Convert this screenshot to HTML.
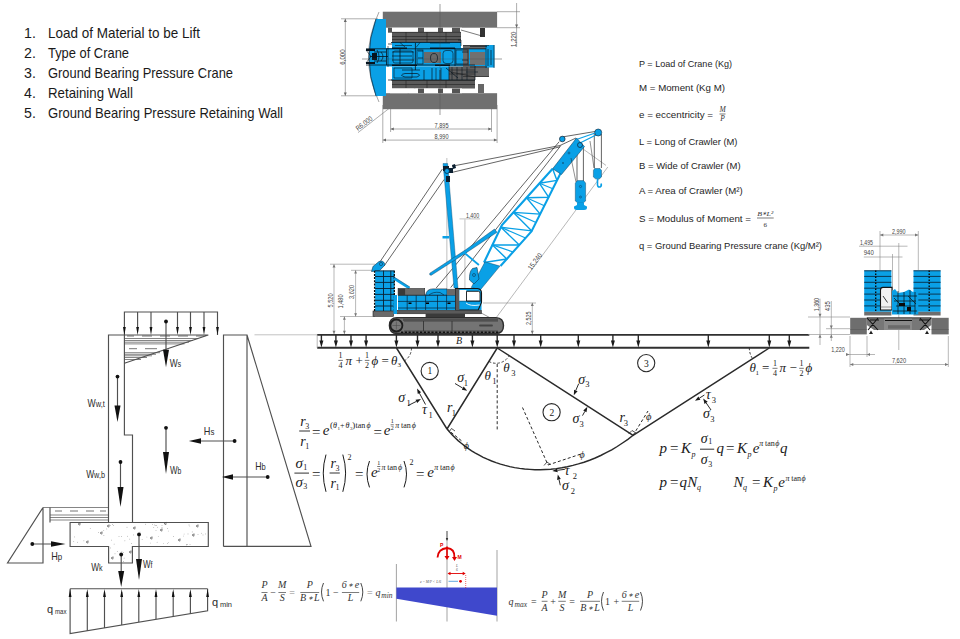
<!DOCTYPE html>
<html><head><meta charset="utf-8">
<style>
html,body{margin:0;padding:0;background:#fff;width:960px;height:639px;overflow:hidden}
svg{position:absolute;left:0;top:0}
.sans{font-family:"Liberation Sans",sans-serif}
.serif{font-family:"Liberation Serif",serif}
</style></head>
<body>
<svg width="960" height="639" viewBox="0 0 960 639">
<!-- ===== LIST ===== -->
<g id="list" class="sans" font-size="14.2" fill="#1a1a1a">
<text x="24" y="37.5">1.</text><text x="48" y="37.5" textLength="152" lengthAdjust="spacingAndGlyphs">Load of Material to be Lift</text>
<text x="24" y="57.7">2.</text><text x="48" y="57.7" textLength="81" lengthAdjust="spacingAndGlyphs">Type of Crane</text>
<text x="24" y="77.9">3.</text><text x="48" y="77.9" textLength="185" lengthAdjust="spacingAndGlyphs">Ground Bearing Pressure Crane</text>
<text x="24" y="98.1">4.</text><text x="48" y="98.1" textLength="85" lengthAdjust="spacingAndGlyphs">Retaining Wall</text>
<text x="24" y="118.3">5.</text><text x="48" y="118.3" textLength="235" lengthAdjust="spacingAndGlyphs">Ground Bearing Pressure Retaining Wall</text>
</g>

<!-- ===== LEGEND ===== -->
<g id="legend" class="sans" font-size="9.8" fill="#1e1e1e">
<text x="639" y="66.7" textLength="93" lengthAdjust="spacingAndGlyphs">P = Load of Crane (Kg)</text>
<text x="639" y="90.8" textLength="86" lengthAdjust="spacingAndGlyphs">M = Moment (Kg M)</text>
<text x="639" y="117.5" textLength="74" lengthAdjust="spacingAndGlyphs">e = eccentricity =</text>
<text x="639" y="145" textLength="98.5" lengthAdjust="spacingAndGlyphs">L = Long of Crawler (M)</text>
<text x="639" y="169.2" textLength="101.6" lengthAdjust="spacingAndGlyphs">B = Wide of Crawler (M)</text>
<text x="639" y="193.5" textLength="103.7" lengthAdjust="spacingAndGlyphs">A = Area of Crawler (M²)</text>
<text x="639" y="221.7" textLength="112" lengthAdjust="spacingAndGlyphs">S = Modulus of Moment =</text>
<text x="639" y="248.8" textLength="183" lengthAdjust="spacingAndGlyphs">q = Ground Bearing Pressure crane (Kg/M²)</text>
</g>

<!-- ===== RETAINING WALL ===== -->
<g id="wall" fill="none" stroke="#505050" stroke-width="1.15">
<path d="M124.4 335V312H217.5V335"/>
<path d="M137.6 312V328M151 312V328M177.5 312V328M190.5 312V328M204 312V328"/>
<!-- wall stem -->
<path d="M108.5 522V335H124.4V435H132.5V522"/>
<path d="M124.4 335H208.3L124.4 363.2"/>
<!-- soil hatch -->
<path d="M124.4 338.5H198M124.4 340.5H193M124.4 342.2H189M124.4 343.9H184.5M124.4 352.7H160M124.4 354.3H156M124.4 355.8H152M124.4 357.5H147M124.4 359.5H141" stroke-width="0.7"/>
<path d="M127 336H134M142 336H152M160 336H170M178 336H188M196 336H204M129 348.7H137M145 348.7H157" stroke-width="0.8"/>
<!-- base slab -->
<path d="M70.1 522.5H208.3V546.5H132.4V563H108.6V546.5H70.1Z"/>
<!-- left soil -->
<path d="M43 507.5H108.6M50 515H108.6M50 517.5H108.6M50 520H108.6" stroke-width="0.7"/><path d="M55 511H62M70 511H78M86 511H94M100 511H106" stroke-width="0.8"/>
<path d="M43 507.5L7.5 563H43V507.5"/>
<path d="M50 507.5V522.5"/>
<!-- right panel -->
<path d="M223.5 546.4V335H247V546.4M223.5 546.4H311L247 335"/>
<!-- pressure diagram -->
<path d="M70.1 588.7H207.6M70.1 588.7V633.6L207.6 610.7V588.7"/>
<path d="M87.3 592V631M104.5 592V628M121.7 592V625M138.8 592V622M156 592V619M173.2 592V617M190.4 592V614"/>
<!-- force lines -->
<path d="M166 321.5V350M117.5 376.6V406M166 427.8V452M120.5 462V488M121.2 554.5V572M139 534.4V560"/>
<path d="M234.6 441H200M267.7 477H232M32.3 544H52"/>
</g>
<g fill="#555"><circle cx="103.9" cy="535.4" r="0.35"/><circle cx="121.6" cy="536.7" r="0.35"/><circle cx="155.8" cy="525.4" r="0.35"/><circle cx="73.8" cy="541.6" r="0.35"/><circle cx="106.8" cy="528.9" r="0.35"/><circle cx="205.4" cy="533.9" r="0.35"/><circle cx="184.1" cy="534.0" r="0.35"/><circle cx="157.6" cy="527.2" r="0.35"/><circle cx="157.1" cy="542.2" r="0.35"/><circle cx="142.1" cy="539.6" r="0.35"/><circle cx="162.0" cy="525.3" r="0.35"/><circle cx="173.6" cy="536.4" r="0.35"/><circle cx="112.4" cy="524.7" r="0.35"/><circle cx="188.0" cy="533.9" r="0.35"/><circle cx="168.3" cy="542.5" r="0.35"/><circle cx="167.7" cy="543.3" r="0.35"/><circle cx="124.9" cy="540.8" r="0.35"/><circle cx="131.6" cy="543.6" r="0.35"/><circle cx="189.8" cy="526.0" r="0.35"/><circle cx="90.2" cy="528.6" r="0.35"/><circle cx="201.4" cy="533.2" r="0.35"/><circle cx="156.0" cy="530.3" r="0.35"/><circle cx="140.0" cy="532.1" r="0.35"/><circle cx="119.0" cy="536.3" r="0.35"/><circle cx="150.3" cy="543.0" r="0.35"/><circle cx="163.4" cy="543.5" r="0.35"/><circle cx="186.8" cy="544.8" r="0.35"/><circle cx="162.0" cy="527.4" r="0.35"/><circle cx="187.3" cy="544.3" r="0.35"/><circle cx="193.2" cy="536.0" r="0.35"/><circle cx="167.7" cy="528.4" r="0.35"/><circle cx="183.4" cy="536.0" r="0.35"/><circle cx="110.2" cy="525.3" r="0.35"/><circle cx="186.4" cy="544.8" r="0.35"/><circle cx="83.9" cy="540.8" r="0.35"/><circle cx="127.0" cy="527.2" r="0.35"/><circle cx="111.4" cy="540.1" r="0.35"/><circle cx="189.0" cy="524.9" r="0.35"/><circle cx="154.3" cy="524.9" r="0.35"/><circle cx="168.3" cy="531.0" r="0.35"/><circle cx="190.0" cy="544.6" r="0.35"/><circle cx="139.7" cy="545.0" r="0.35"/><circle cx="113.5" cy="525.6" r="0.35"/><circle cx="152.4" cy="524.7" r="0.35"/><circle cx="98.4" cy="532.6" r="0.35"/><circle cx="153.8" cy="527.3" r="0.35"/><circle cx="77.7" cy="542.2" r="0.35"/><circle cx="114.1" cy="544.1" r="0.35"/><circle cx="192.2" cy="531.9" r="0.35"/><circle cx="133.7" cy="534.9" r="0.35"/><circle cx="158.3" cy="536.5" r="0.35"/><circle cx="146.9" cy="537.0" r="0.35"/><circle cx="198.0" cy="534.6" r="0.35"/><circle cx="129.8" cy="539.1" r="0.35"/><circle cx="103.8" cy="530.3" r="0.35"/><circle cx="203.0" cy="534.9" r="0.35"/><circle cx="145.5" cy="524.2" r="0.35"/><circle cx="127.6" cy="536.2" r="0.35"/><circle cx="74.7" cy="536.9" r="0.35"/><circle cx="156.7" cy="525.3" r="0.35"/><circle cx="122.5" cy="554.0" r="0.35"/><circle cx="123.6" cy="552.3" r="0.35"/><circle cx="124.1" cy="558.1" r="0.35"/><circle cx="110.4" cy="547.9" r="0.35"/><circle cx="123.5" cy="561.4" r="0.35"/><circle cx="115.0" cy="553.8" r="0.35"/><circle cx="121.9" cy="551.8" r="0.35"/><circle cx="117.3" cy="551.7" r="0.35"/><path d="M78 524l2.2 -1.2l-0.3 2.4zM107 526l2.2 -1.2l-0.3 2.4zM133 528l2.2 -1.2l-0.3 2.4zM100 533l2.2 -1.2l-0.3 2.4zM160 530l2.2 -1.2l-0.3 2.4zM196 526l2.2 -1.2l-0.3 2.4zM192 535l2.2 -1.2l-0.3 2.4zM129 552l2.2 -1.2l-0.3 2.4zM111 558l2.2 -1.2l-0.3 2.4zM86 542l2.2 -1.2l-0.3 2.4zM178 540l2.2 -1.2l-0.3 2.4zM150 538l2.2 -1.2l-0.3 2.4zM164 523.5l2.2 -1.2l-0.3 2.4z" fill="none" stroke="#444" stroke-width="0.6"/></g>
<g id="wallink" fill="#111" stroke="none">
<path d="M123 327H125.8L124.4 335ZM136.2 327H139L137.6 335ZM149.6 327H152.4L151 335ZM176.1 327H178.9L177.5 335ZM189.1 327H191.9L190.5 335ZM202.6 327H205.4L204 335ZM216.1 327H218.9L217.5 335Z"/>
<path d="M68.7 597H71.5L70.1 589ZM85.9 597H88.7L87.3 589ZM103.1 597H105.9L104.5 589ZM120.3 597H123.1L121.7 589ZM137.4 597H140.2L138.8 589ZM154.6 597H157.4L156 589ZM171.8 597H174.6L173.2 589ZM189 597H191.8L190.4 589ZM206.2 597H209L207.6 589Z"/>
<circle cx="166" cy="321.5" r="1.9"/><path d="M163 349.7H169L166 367.3Z"/>
<circle cx="117.5" cy="376.6" r="1.9"/><path d="M114.5 405.4H120.5L117.5 422Z"/>
<circle cx="166" cy="427.8" r="1.9"/><path d="M163 452H169L166 474Z"/>
<circle cx="120.5" cy="462" r="1.9"/><path d="M117.5 487H123.5L120.5 507Z"/>
<circle cx="121.2" cy="554.5" r="1.9"/><path d="M118.2 571H124.2L121.2 587Z"/>
<circle cx="139" cy="534.4" r="1.9"/><path d="M136 559H142L139 580Z"/>
<circle cx="234.6" cy="441" r="1.9"/><path d="M201 438.2V443.8L188.8 441Z"/>
<circle cx="267.7" cy="477" r="1.9"/><path d="M233 474.2V479.8L221.9 477Z"/>
<circle cx="32.3" cy="544" r="1.9"/><path d="M51 541.2V546.8L65.5 544Z"/>
</g>
<g class="sans" fill="#2a2a2a" font-size="11">
<text x="169.7" y="366.6" textLength="11.5" lengthAdjust="spacingAndGlyphs">W<tspan font-size="9.5">s</tspan></text>
<text x="87.5" y="407.2" textLength="17.3" lengthAdjust="spacingAndGlyphs">W<tspan font-size="9.5">w,t</tspan></text>
<text x="86.2" y="478" textLength="18.8" lengthAdjust="spacingAndGlyphs">W<tspan font-size="9.5">w,b</tspan></text>
<text x="170" y="474" textLength="11.3" lengthAdjust="spacingAndGlyphs">W<tspan font-size="9.5">b</tspan></text>
<text x="203.8" y="434.5" textLength="10.6" lengthAdjust="spacingAndGlyphs">H<tspan font-size="9.5">s</tspan></text>
<text x="255.3" y="469.5" textLength="10.5" lengthAdjust="spacingAndGlyphs">H<tspan font-size="9.5">b</tspan></text>
<text x="51.2" y="560" textLength="11" lengthAdjust="spacingAndGlyphs">H<tspan font-size="9.5">p</tspan></text>
<text x="91.2" y="571.3" textLength="11.3" lengthAdjust="spacingAndGlyphs">W<tspan font-size="9.5">k</tspan></text>
<text x="143" y="567.5" textLength="9.5" lengthAdjust="spacingAndGlyphs">W<tspan font-size="9.5">f</tspan></text>
<text x="47" y="613" font-size="11">q</text><text x="55" y="613.5" font-size="7.5" textLength="11.5" lengthAdjust="spacingAndGlyphs">max</text>
<text x="212" y="606" font-size="11">q</text><text x="220" y="606.5" font-size="7.5" textLength="12" lengthAdjust="spacingAndGlyphs">min</text>
</g>

<!-- ===== GROUND BEAM + SLIP LINES ===== -->
<path d="M254.5 334.8H317.2" stroke="#999" stroke-width="0.6" fill="none"/>
<g fill="none" stroke="#2a2a2a">
<path d="M317.2 334.85H809.3M317.2 347.75H809.3" stroke-width="1.9" stroke="#303030"/>
<path d="M317.2 334.8V348" stroke="#888" stroke-width="0.6"/>
<path d="M321.4 335V342M335.9 335V342M351 335V342M366.1 335V342M396.4 335V342M417.5 335V342M438 335V342M472.4 335V342M497.2 335V342M514 335V342M540.7 335V342M578.3 335V342M612.9 335V342M638.3 335V342M708.3 335V342M769.3 335V342M789.3 335V342" stroke-width="1.4"/>
<path d="M396.5 348L447 429M497.2 348L447 429M497.2 348L633.1 435.3L769.3 348" stroke-width="1.45"/>
<path d="M447.0 429.0 L449.6 432.0 L452.3 434.9 L455.1 437.8 L458.1 440.6 L461.3 443.3 L464.6 445.9 L468.0 448.4 L471.6 450.8 L475.4 453.1 L479.2 455.2 L483.2 457.3 L487.3 459.2 L491.6 461.0 L496.0 462.6 L500.5 464.1 L505.1 465.4 L509.8 466.6 L514.6 467.6 L519.6 468.4 L524.6 469.0 L529.7 469.4 L534.9 469.7 L540.1 469.7 L545.5 469.5 L550.8 469.2 L556.3 468.6 L561.8 467.8 L567.3 466.7 L572.9 465.4 L578.4 463.9 L584.0 462.2 L589.6 460.2 L595.2 458.0 L600.7 455.5 L606.2 452.7 L611.7 449.8 L617.2 446.5 L622.5 443.0 L627.9 439.3 L633.1 435.3" stroke-width="1.45"/>
<path d="M497.2 364V431M522.5 407.5L548 465M447 429L463 442M548 465L581 454M633.1 435.3L648 411" stroke-width="1" stroke-dasharray="3 2.2"/>
<path d="M411.5 348A15 15 0 0 1 404.5 360.8M489 361.5A15 15 0 0 0 509 356M749.3 347.75A20 20 0 0 0 752.5 358.6" stroke-width="0.9" stroke-dasharray="2.5 1.8"/>
<circle cx="429.7" cy="371" r="8.6" stroke-width="1.1"/>
<circle cx="551.6" cy="412.2" r="8.6" stroke-width="1.1"/>
<circle cx="646.2" cy="363.1" r="8.6" stroke-width="1.1"/>
<path d="M408.0 405.6L416.4 401.4M425.5 404.5L419.4 393.1M455.0 383.5L462.7 388.1M578.7 383.7L575.8 390.4M582.5 415.6L584.9 411.3M704.4 395.0L699.4 398.1M711.0 410.0L706.1 402.8M564.9 469.3L557.5 470.3M560.3 485.3L559.0 479.6" stroke-width="1"/>
<path d="M449 432L451.5 428.5L455 431M544 465.5L547 462L550.5 464.5M628.5 434L632 430.5L636 433" stroke-width="0.8"/>
</g>
<g fill="#1a1a1a">
<path d="M319.4 340.5H323.4L321.4 347.5ZM333.9 340.5H337.9L335.9 347.5ZM349.0 340.5H353.0L351 347.5ZM364.1 340.5H368.1L366.1 347.5ZM394.4 340.5H398.4L396.4 347.5ZM415.5 340.5H419.5L417.5 347.5ZM436.0 340.5H440.0L438 347.5ZM470.4 340.5H474.4L472.4 347.5ZM495.2 340.5H499.2L497.2 347.5ZM512.0 340.5H516.0L514 347.5ZM538.7 340.5H542.7L540.7 347.5ZM576.3 340.5H580.3L578.3 347.5ZM610.9 340.5H614.9L612.9 347.5ZM636.3 340.5H640.3L638.3 347.5ZM706.3 340.5H710.3L708.3 347.5ZM767.3 340.5H771.3L769.3 347.5ZM787.3 340.5H791.3L789.3 347.5Z"/>
<path d="M421.0 399.0L417.2 403.0L415.5 399.7ZM417.0 388.5L421.1 392.2L417.8 394.0ZM467.2 390.8L461.8 389.8L463.7 386.5ZM573.8 395.2L574.1 389.7L577.6 391.2ZM587.4 406.8L586.5 412.3L583.2 410.4ZM695.0 400.8L698.4 396.5L700.4 399.7ZM703.2 398.5L707.7 401.7L704.5 403.9ZM552.3 471.0L557.2 468.4L557.7 472.2ZM557.8 474.5L560.8 479.1L557.1 480.0Z"/>
</g>
<g class="serif" font-style="italic" fill="#1a1a1a">
<text x="398.3" y="402" font-size="14">σ</text><text x="406.5" y="405.5" font-size="8.5" font-style="normal">1</text>
<text x="422" y="414" font-size="14">τ</text><text x="428.5" y="417.5" font-size="8.5" font-style="normal">1</text>
<text x="457.3" y="382.2" font-size="14">σ</text><text x="463.8" y="385.8" font-size="8.5" font-style="normal">1</text>
<text x="447" y="412.2" font-size="14">r</text><text x="451.8" y="415.5" font-size="8.5" font-style="normal">1</text>
<text x="484.5" y="380.3" font-size="13">θ</text><text x="492.3" y="383.5" font-size="8.5" font-style="normal">1</text>
<text x="503.3" y="372" font-size="13">θ</text><text x="511.3" y="375.8" font-size="8.5" font-style="normal">3</text>
<text x="578.3" y="383.7" font-size="14">σ</text><text x="585.3" y="387.2" font-size="8.5" font-style="normal">3</text>
<text x="572.6" y="423" font-size="14">σ</text><text x="579.6" y="427" font-size="8.5" font-style="normal">3</text>
<text x="619.5" y="422.2" font-size="14">r</text><text x="623.8" y="426.2" font-size="8.5" font-style="normal">3</text>
<text x="705.8" y="398.7" font-size="14">τ</text><text x="711.8" y="402.5" font-size="8.5" font-style="normal">3</text>
<text x="703" y="417.5" font-size="14">σ</text><text x="710.2" y="421.5" font-size="8.5" font-style="normal">3</text>
<text x="564.5" y="475" font-size="14">τ</text><text x="572.8" y="479" font-size="8.5" font-style="normal">2</text>
<text x="562" y="489.9" font-size="14">σ</text><text x="570.8" y="493.5" font-size="8.5" font-style="normal">2</text>
<text x="646" y="420" font-size="10.5">ϕ</text>
<text x="579.5" y="458" font-size="10">ϕ</text>
<text x="463.8" y="449" font-size="10">ϕ</text>
<text x="456" y="344" font-size="10">B</text>
</g>
<g class="serif" fill="#1a1a1a" font-size="9.5" text-anchor="middle">
<text x="429.9" y="374.4">1</text><text x="551.8" y="415.6">2</text><text x="646.4" y="366.5">3</text>
</g>

<!-- ===== EQUATIONS ===== -->
<g class="serif" font-style="italic" fill="#1a1a1a">
<text x="340.6" y="358.3" font-size="8" font-style="normal" text-anchor="middle">1</text><text x="340.6" y="368.2" font-size="8" font-style="normal" text-anchor="middle">4</text><path d="M338.3 360.4H342.9" stroke="#1a1a1a" stroke-width="0.6"/>
<text x="345.5" y="364.5" font-size="13">π</text>
<text x="355.5" y="364.5" font-size="13" font-style="normal">+</text>
<text x="367.1" y="358.3" font-size="8" font-style="normal" text-anchor="middle">1</text><text x="367.1" y="368.2" font-size="8" font-style="normal" text-anchor="middle">2</text><path d="M364.8 360.4H369.4" stroke="#1a1a1a" stroke-width="0.6"/>
<text x="371.5" y="364.5" font-size="13">ϕ</text>
<text x="381.5" y="364.5" font-size="13" font-style="normal">=</text>
<text x="391" y="364.5" font-size="13">θ</text>
<text x="397.5" y="367.0" font-size="7" font-style="normal">3</text>
<text x="749.5" y="372" font-size="13">θ</text>
<text x="755.5" y="374.8" font-size="7" font-style="normal">1</text>
<text x="762" y="372" font-size="13" font-style="normal">=</text>
<text x="775.0" y="366.3" font-size="8" font-style="normal" text-anchor="middle">1</text><text x="775.0" y="375.8" font-size="8" font-style="normal" text-anchor="middle">4</text><path d="M772.5 368.3H777.5" stroke="#1a1a1a" stroke-width="0.6"/>
<text x="779.5" y="372" font-size="13">π</text>
<text x="789.5" y="372" font-size="13" font-style="normal">−</text>
<text x="801.5" y="366.3" font-size="8" font-style="normal" text-anchor="middle">1</text><text x="801.5" y="375.8" font-size="8" font-style="normal" text-anchor="middle">2</text><path d="M799.2 368.3H803.8000000000001" stroke="#1a1a1a" stroke-width="0.6"/>
<text x="805.5" y="372" font-size="13">ϕ</text>
<path d="M299.2 431H310M294.4 473.1H309M329.6 473H339.8M700 449.2H714.2" stroke="#1a1a1a" stroke-width="0.9"/>
<text x="300.2" y="426.2" font-size="14">r</text>
<text x="305.3" y="428.8" font-size="8" font-style="normal">3</text>
<text x="300.2" y="445.9" font-size="14">r</text>
<text x="305.3" y="448.5" font-size="8" font-style="normal">1</text>
<text x="312" y="436.5" font-size="15" font-style="normal">=</text>
<text x="322.8" y="435" font-size="15">e</text>
<text x="330" y="428.3" font-size="9" font-style="normal">(</text>
<text x="333" y="428.3" font-size="8">θ</text>
<text x="337.5" y="429.8" font-size="5" font-style="normal">1</text>
<text x="340" y="428.3" font-size="8" font-style="normal">+</text>
<text x="345.5" y="428.3" font-size="8">θ</text>
<text x="350" y="429.8" font-size="5" font-style="normal">3</text>
<text x="352.3" y="428.3" font-size="9" font-style="normal">)</text>
<text x="355.5" y="428.3" font-size="8" font-style="normal">tan</text>
<text x="366.5" y="428.3" font-size="8">ϕ</text>
<text x="373.5" y="436.5" font-size="15" font-style="normal">=</text>
<text x="383.8" y="435" font-size="15">e</text>
<text x="392.2" y="423.2" font-size="6" font-style="normal" text-anchor="middle">1</text><text x="392.2" y="430.2" font-size="6" font-style="normal" text-anchor="middle">2</text><path d="M390.6 424.8H393.8" stroke="#1a1a1a" stroke-width="0.6"/>
<text x="395.3" y="428.3" font-size="8">π</text>
<text x="401" y="428.3" font-size="8" font-style="normal">tan</text>
<text x="411.8" y="428.3" font-size="8">ϕ</text>
<text x="295.5" y="467.9" font-size="15">σ</text>
<text x="303.2" y="469.5" font-size="8" font-style="normal">1</text>
<text x="295.5" y="486.6" font-size="15">σ</text>
<text x="303.2" y="488.5" font-size="8" font-style="normal">3</text>
<text x="312" y="478.5" font-size="15" font-style="normal">=</text>
<path d="M326 454.6Q320.5 473 326 491.8M342.8 454.6Q348.4 473 342.8 491.8M369.5 461Q364.5 474 369.5 487.4M404 461Q409 474 404 487.4" fill="none" stroke="#1a1a1a" stroke-width="1"/>
<text x="330.5" y="468" font-size="14">r</text>
<text x="335.5" y="470.5" font-size="8" font-style="normal">3</text>
<text x="330.5" y="487.5" font-size="14">r</text>
<text x="335.5" y="490" font-size="8" font-style="normal">1</text>
<text x="347.6" y="459.5" font-size="8" font-style="normal">2</text>
<text x="355" y="478.5" font-size="15" font-style="normal">=</text>
<text x="371" y="476.9" font-size="15">e</text>
<text x="378.8" y="464.9" font-size="6" font-style="normal" text-anchor="middle">1</text><text x="378.8" y="471.9" font-size="6" font-style="normal" text-anchor="middle">2</text><path d="M377.2 466.5H380.4" stroke="#1a1a1a" stroke-width="0.6"/>
<text x="381.5" y="470" font-size="8">π</text>
<text x="387.3" y="470" font-size="8" font-style="normal">tan</text>
<text x="398" y="470" font-size="8">ϕ</text>
<text x="409.5" y="464.5" font-size="8" font-style="normal">2</text>
<text x="416" y="478.5" font-size="15" font-style="normal">=</text>
<text x="427.3" y="476.9" font-size="15">e</text>
<text x="434.3" y="469.5" font-size="8">π</text>
<text x="440" y="469.5" font-size="8" font-style="normal">tan</text>
<text x="450.5" y="469.5" font-size="8">ϕ</text>
<text x="659.5" y="452.5" font-size="15">p</text>
<text x="670" y="452.5" font-size="15" font-style="normal">=</text>
<text x="681" y="452.5" font-size="15">K</text>
<text x="691.5" y="457.0" font-size="8">p</text>
<text x="700.8" y="442.5" font-size="14">σ</text>
<text x="708.3" y="444" font-size="8" font-style="normal">1</text>
<text x="700.8" y="463.7" font-size="14">σ</text>
<text x="708.3" y="466.5" font-size="8" font-style="normal">3</text>
<text x="716.5" y="452.5" font-size="15">q</text>
<text x="726" y="452.5" font-size="15" font-style="normal">=</text>
<text x="737" y="452.5" font-size="15">K</text>
<text x="747.5" y="457.0" font-size="8">p</text>
<text x="752.8" y="452.5" font-size="15">e</text>
<text x="759.3" y="446.3" font-size="8">π</text>
<text x="765" y="446.3" font-size="8" font-style="normal">tan</text>
<text x="775.2" y="446.3" font-size="8">ϕ</text>
<text x="780" y="452.5" font-size="15">q</text>
<text x="659.5" y="486.7" font-size="15">p</text>
<text x="670" y="486.7" font-size="15" font-style="normal">=</text>
<text x="679.5" y="486.7" font-size="15">q</text>
<text x="687.3" y="486.7" font-size="15">N</text>
<text x="697" y="490.2" font-size="8">q</text>
<text x="733.5" y="486.7" font-size="15">N</text>
<text x="743" y="490.2" font-size="8">q</text>
<text x="752" y="486.7" font-size="15" font-style="normal">=</text>
<text x="763" y="486.7" font-size="15">K</text>
<text x="773.5" y="491.2" font-size="8">p</text>
<text x="778.3" y="486.7" font-size="15">e</text>
<text x="785.5" y="480.5" font-size="8">π</text>
<text x="791.3" y="480.5" font-size="8" font-style="normal">tan</text>
<text x="801.5" y="480.5" font-size="8">ϕ</text>
</g>

<!-- ===== PLAN VIEW ===== -->
<g id="plan">
<!-- dimension lines -->
<g fill="none" stroke="#777" stroke-width="0.6">
<path d="M345.3 18.8V95.8M341 18.8H378M341 95.8H378"/>
<path d="M516.6 3V47M497 27.7H520M497 11.7H520"/>
<path d="M390.6 129H491.5M382.8 140.1H497.1M390.6 100V132M491.5 100V132M382.8 105V143M497.1 105V143"/>
<path d="M358 132.6L438 70.4"/>
<path d="M440 4V115M362 59H502" stroke="#999" stroke-width="0.5"/>
<path d="M379 12Q358 57 379 102" stroke="#666" stroke-width="0.6"/>
</g>
<g fill="#666">
<path d="M343.8 22L345.3 18.8L346.8 22ZM343.8 92.6L345.3 95.8L346.8 92.6Z"/>
<path d="M393.8 127.5L390.6 129L393.8 130.5ZM488.3 127.5L491.5 129L488.3 130.5ZM386 138.6L382.8 140.1L386 141.6ZM493.9 138.6L497.1 140.1L493.9 141.6Z"/>
<path d="M515.1 24.5L516.6 27.7L518.1 24.5Z"/>
</g>
<!-- tracks -->
<rect x="382.8" y="11.7" width="114.3" height="16" fill="#707070"/>
<rect x="382.8" y="93.2" width="114.3" height="16" fill="#707070"/>
<!-- counterweight -->
<path d="M376 19H386V96H376Q362 57 376 19Z" fill="#0aa0e6"/><path d="M376 19Q362 57 376 96" fill="none" stroke="#0d3550" stroke-width="0.8"/>
<!-- body frames -->
<rect x="390" y="27.7" width="72" height="4.5" fill="#fff"/>
<rect x="388" y="27.7" width="4" height="5" fill="#555"/>
<rect x="418" y="27.7" width="6" height="5" fill="#555"/>
<rect x="438" y="27.7" width="5" height="5" fill="#555"/>
<rect x="452" y="27.7" width="8" height="5" fill="#555"/>
<rect x="392" y="32" width="69" height="10" fill="#5a5a5a"/>
<rect x="392" y="80" width="83" height="8.5" fill="#5a5a5a"/>
<rect x="390" y="88.5" width="72" height="4.7" fill="#fff"/>
<rect x="418" y="88.5" width="6" height="4.7" fill="#555"/>
<rect x="438" y="88.5" width="5" height="4.7" fill="#555"/>
<rect x="452" y="88.5" width="8" height="4.7" fill="#555"/>
<rect x="480" y="28" width="5" height="9" fill="#333"/>
<rect x="478" y="84" width="6" height="9" fill="#666"/>
<rect x="392" y="42" width="69" height="6" fill="#0aa0e6"/>
<rect x="380" y="48" width="106" height="18.5" fill="#0aa0e6"/>
<rect x="463" y="45" width="26" height="32" fill="#6a6a6a"/>
<rect x="469" y="49" width="17" height="17" fill="#0aa0e6"/>
<rect x="470" y="52" width="15" height="13" fill="#707070"/>
<rect x="485" y="45" width="9.5" height="22.5" fill="#0aa0e6"/>
<rect x="424" y="52" width="17" height="11" fill="#6a6a6a"/>
<rect x="392" y="66.5" width="57" height="13.5" fill="#0aa0e6"/>
<rect x="449" y="66.5" width="26" height="13.5" fill="#5e5e5e"/>
<g fill="none" stroke="#06141f" stroke-width="0.8">
<path d="M366 48.8H486M366 65H475M391 42.5H461M391 80H475M415.4 43V70M400 49V64M455 48V66M386.5 49V65M374 52H386M374 61H386M370 56.5H388"/>
<path d="M392 52H414M392 56H412M392 60H414M418 51H423M418 58H423M402 70H420M405 73.5Q398 75 405 77H417Q422 75 417 73.5ZM424 70V80M432 68V80M440 70V80M446 68L458 78M388 44H392M388 80H392" stroke-width="0.7"/>
<path d="M377 50Q381 56.5 377 63M381 52Q385 56.5 381 61M434 53.5A3.5 4.5 0 1 0 434 62.5A3.5 4.5 0 1 0 434 53.5M462 52H468M462 60H468M488 49V66M491 50V65M475 66V80M449 66.5V80" stroke-width="0.7"/>
</g>
<g fill="#06141f">
<path d="M366 49h9v2h-9zM366 62h9v2h-9zM372 53h5v7h-5zM392 47.5h15v1.5h-15zM430 47.5h25v1.5h-25zM392 64.5h25v1.5h-25zM435 64.5h15v1.5h-15z"/>
</g>
<g fill="none" stroke="#222" stroke-width="0.6">
<path d="M392 32.3H461M392 36.5H461M392 39.5H461M406 32V42M427 32V42M446 32V42M392 80.5H475M392 84.5H475M406 80V88M427 80V88M446 80V88M461 30L482 36M451 72L475 77M449 70H475M449 74H475M463 45.5H489M463 76.5H489"/>
</g>
<g fill="none" stroke="#06141f" stroke-width="0.6">
<rect x="393" y="51" width="20" height="12" rx="2"/>
<rect x="417" y="50" width="6" height="14"/>
<rect x="443" y="50.5" width="10" height="13" rx="3"/>
<rect x="456" y="50" width="12" height="14"/>
<path d="M366 50L371 56.5L366 63M388 46V67M394 68H412V78H394ZM436 68V80M441 68V80M452 67V80M457 67V80M462 67V80M467 67V80"/>
<path d="M470 46.5H487M470 67H487M486 45V68M494 45V68M466 72H478M458 40H461V46"/>
<path d="M400 42.5L405 47M420 42.5L416 47.5M430 43H450M395 45.5H412"/>
</g>
<!-- center lines over -->
<path d="M440 4V115M362 59H502" stroke="#444" stroke-width="0.4" fill="none" opacity="0.7"/>
<g class="sans" fill="#444" font-size="7">
<text x="441.5" y="127.8" text-anchor="middle" textLength="14" lengthAdjust="spacingAndGlyphs">7,895</text>
<text x="441.5" y="138.8" text-anchor="middle" textLength="14" lengthAdjust="spacingAndGlyphs">8,990</text>
<text transform="translate(344.6 57) rotate(-90)" text-anchor="middle" textLength="15.3" lengthAdjust="spacingAndGlyphs">6,000</text>
<text transform="translate(515.5 39.3) rotate(-90)" text-anchor="middle" textLength="15.3" lengthAdjust="spacingAndGlyphs">1,220</text>
<text transform="translate(365.5 125.3) rotate(-37.5)" text-anchor="middle" textLength="19" lengthAdjust="spacingAndGlyphs">R6,000</text>
</g>
</g>

<!-- ===== SIDE VIEW ===== -->
<g id="side">
<g fill="none" stroke="#888" stroke-width="0.6">
<path d="M334 264.2V334M344.4 316.5V334M355.6 270.3V316.5M330 264.2H375M351 270.3H375M340 316.5H375"/>
<path d="M459.5 218.9H480" stroke="#999"/><path d="M446.8 158V290M464.9 218.9V300" stroke="#d2d2d2" stroke-width="1.4"/>
<path d="M483 303H536M532.3 302.7V334" />
<path d="M496.7 317L607.8 167M584 149.7L606 165.4" />
</g>
<g fill="#777">
<path d="M332.5 267.5L334 264.2L335.5 267.5ZM332.5 330.7L334 334L335.5 330.7ZM343 319.8L344.4 316.5L345.8 319.8ZM343 330.7L344.4 334L345.8 330.7ZM354.2 273.6L355.6 270.3L357 273.6ZM354.2 313.2L355.6 316.5L357 313.2ZM530.8 306L532.3 302.7L533.8 306ZM530.8 330.7L532.3 334L533.8 330.7Z"/>
</g>
<g class="sans" fill="#444" font-size="7">
<text transform="translate(333.1 300.4) rotate(-90)" text-anchor="middle" textLength="14" lengthAdjust="spacingAndGlyphs">5,520</text>
<text transform="translate(343.4 301.4) rotate(-90)" text-anchor="middle" textLength="14" lengthAdjust="spacingAndGlyphs">1,480</text>
<text transform="translate(354.1 292) rotate(-90)" text-anchor="middle" textLength="14" lengthAdjust="spacingAndGlyphs">3,620</text>
<text transform="translate(530.8 318.3) rotate(-90)" text-anchor="middle" textLength="13.5" lengthAdjust="spacingAndGlyphs">2,525</text>
<text x="472.6" y="217.8" text-anchor="middle" textLength="13.3" lengthAdjust="spacingAndGlyphs">1,400</text>
<text transform="translate(536.8 262.8) rotate(-53.5)" text-anchor="middle" textLength="19" lengthAdjust="spacingAndGlyphs">15,240</text>
</g>
<!-- ropes -->
<g fill="none" stroke="#222" stroke-width="0.7">
<path d="M442.3 169.1L378.5 264M444.2 179.4L384.1 265.9"/>
<path d="M452 166.2L560 145.5M452 172.4L560 146.8M560 145.5L576 138"/>
<path d="M559.2 141.7L436.2 288M560.8 145.6L450.7 287.6"/>
<path d="M562 137L598 131"/>
<path d="M577 146V183M583.4 146V183M594.3 134V168M601.4 134V168"/>
</g>
<!-- mast -->
<path d="M443 163.5H447.6L458 288H454Z" fill="#0aa0e6" stroke="#0d4f73" stroke-width="0.4"/>
<path d="M442.5 236H449V238.5H442.5Z" fill="#0aa0e6"/><path d="M443 166h6v5h-6zM449 168h4v5h-4zM446 176h4v6h-4z" fill="#0a1f30"/><circle cx="447" cy="171" r="2.5" fill="#0aa0e6" stroke="#0a1f30" stroke-width="0.7"/><path d="M452 165l3 -1l1 4l-3 1z" fill="#0a1f30"/>
<!-- long strut -->
<path d="M429.8 273.2L466 249.5L494.5 229L497 232.3L467.5 252L431.3 275.3Q429 275.5 429.8 273.2Z" fill="#0aa0e6" stroke="#0d3550" stroke-width="0.4"/>
<path d="M464.6 253L478.9 265" stroke="#0aa0e6" stroke-width="1.8"/>
<!-- boom -->
<g fill="none" stroke="#0aa0e6" stroke-width="2.1" stroke-linejoin="round">
<path d="M484 262.5L502 225L552.6 168.8"/>
<path d="M500.5 266L531.5 231.4L561.2 172"/>
<path d="M484.0 262.5 L506.8 259.0 L492.5 244.9 L519.3 245.0 L500.9 227.3 L531.8 230.9 L513.4 212.4 L540.2 214.1 L526.5 197.8 L548.6 197.2 L539.5 183.3 L557.0 180.4 L552.6 168.8" stroke-width="1.4"/>
<path d="M492.5 244.9L513.1 252.0M500.9 227.3L525.6 238.0M513.4 212.4L536.0 222.5M526.5 197.8L544.4 205.7M539.5 183.3L552.8 188.8" stroke-width="1.2"/>
<path d="M575 140L598 132M578 144L598 134" stroke-width="1.2"/>
</g>
<path d="M471.2 287.5L480.5 289.7L500 266.1L485 261.8Z" fill="#0aa0e6" stroke="#0d3550" stroke-width="0.4"/>
<path d="M469.5 280Q469 272 472.5 268.5L477 267.5L479 279L474 284Z" fill="#0aa0e6" stroke="#0d3550" stroke-width="0.6"/><circle cx="474" cy="275" r="1.5" fill="none" stroke="#0d3550" stroke-width="0.6"/>
<path d="M552.6 168.8L561.5 174.5L584.5 146.5L576.5 138Z" fill="#0aa0e6" stroke="#0d3550" stroke-width="0.5"/><circle cx="569" cy="153" r="1" fill="none" stroke="#0d3550" stroke-width="0.5"/><circle cx="563" cy="163" r="0.8" fill="#0d3550"/>
<circle cx="562.3" cy="139" r="2.8" fill="#0aa0e6" stroke="#123" stroke-width="0.7"/><circle cx="580" cy="145" r="2.5" fill="#0aa0e6" stroke="#123" stroke-width="0.7"/>
<circle cx="598.2" cy="132.5" r="3.5" fill="#0aa0e6" stroke="#123" stroke-width="0.6"/>
<!-- hooks -->
<path d="M571 158L576 182M590 141L594 168" stroke="#222" stroke-width="0.5" fill="none"/>
<path d="M577.5 180.6H583.5L585.6 183V201L583 203H578L575.3 201V183Z" fill="#0aa0e6" stroke="#0d3550" stroke-width="0.4"/>
<circle cx="580.5" cy="186.5" r="1.1" fill="none" stroke="#0d3550" stroke-width="0.5"/><circle cx="580.5" cy="197" r="1" fill="none" stroke="#0d3550" stroke-width="0.5"/>
<path d="M577 202.5H584V205L587 206.5Q587.5 210 584 210H577Q573.5 210 574 206.5L577 205Z" fill="#0aa0e6"/>
<path d="M594.5 168.5H600L601.5 170.5V177L599.5 178.8H595.5L593.4 177V170.5Z" fill="#0aa0e6" stroke="#0d3550" stroke-width="0.4"/>
<path d="M597.5 178.8V183Q597 187.5 600 187Q602 186 601 183.5" fill="none" stroke="#0aa0e6" stroke-width="1.6"/>
<!-- counterweight -->
<path d="M371.5 271.5L373 266.5L379 261.5Q382.5 260 384 262.5L385 265L379.5 270.7Z" fill="#0aa0e6" stroke="#0d3550" stroke-width="0.6"/><circle cx="381" cy="264" r="1.6" fill="none" stroke="#0d3550" stroke-width="0.6"/>
<rect x="375.1" y="270.7" width="19.4" height="40.6" fill="#0aa0e6"/>
<path d="M375.1 270.9H394.5M375.1 276.5H394.5M375.1 282.4H394.5M375.1 288.5H394.5M375.1 294.4H394.5M375.1 300.3H394.5M375.1 306H394.5M383.5 270.7V311M390.8 270.7V311" stroke="#0a1f30" stroke-width="0.9" fill="none"/>
<path d="M374.6 270.7V311M394.3 270.7V311" stroke="#0a0a0a" stroke-width="1.3" stroke-dasharray="2 1.2" fill="none"/>
<rect x="373" y="311" width="20.5" height="5.3" fill="#6a6a6a" stroke="#222" stroke-width="0.6"/><rect x="393.5" y="295" width="3.5" height="19" fill="#0aa0e6"/>
<path d="M394 278.4L409.4 288.2" stroke="#0aa0e6" stroke-width="2.6"/>
<path d="M394 276.9L409.9 287" stroke="#0d3550" stroke-width="0.4"/>
<!-- upper body -->
<rect x="398" y="295.1" width="83.5" height="15.2" fill="#0aa0e6"/>
<path d="M398 295.2H456M407.2 295.1V310M416.2 295.1V310M425.6 295.1V310M437.5 295.1V310M446.6 295.1V310M456 295.1V310M398 301.4H456M398 308H478" stroke="#0a1f30" stroke-width="0.7" fill="none"/>
<path d="M408.5 302.5h3v1.6h-3zM426 302.5h3v1.6h-3zM447.5 302.5h3v1.6h-3z" fill="#000"/>
<rect x="398.1" y="288.6" width="26.6" height="6.5" fill="#6a6a6a" stroke="#2a2a2a" stroke-width="0.6"/>
<rect x="398.1" y="288.6" width="7" height="6.5" fill="#3a3a3a"/>
<path d="M425.6 295.1Q426.5 288.9 433 288.9H447V295.1Z" fill="#0aa0e6" stroke="#0a1f30" stroke-width="0.6"/>
<path d="M429 295Q433 291.5 440 292.5L444 295" fill="none" stroke="#0a1f30" stroke-width="0.6"/>
<rect x="447" y="288.9" width="8.6" height="6.2" fill="#6a6a6a"/>
<!-- cab -->
<path d="M455.6 288.5H477.5Q481.5 289 481.5 293V302.5L478.2 310H455.6Z" fill="#0aa0e6" stroke="#151515" stroke-width="1.1"/>
<rect x="455.6" y="289" width="3.8" height="21" fill="#5a5a5a"/>
<rect x="459.4" y="290" width="7" height="11" fill="#fff"/>
<path d="M466.5 291.3H478.5Q480 291.5 480 293V301.1H466.5Z" fill="#fff" stroke="#151515" stroke-width="0.9"/>
<path d="M466 303Q470 306.5 479.5 305" fill="none" stroke="#fff" stroke-width="0.9"/>
<path d="M459.4 301.1H482" stroke="#0a1f30" stroke-width="0.5"/>
<!-- under -->
<rect x="397.5" y="310.3" width="84" height="3.5" fill="#5a5a5a" stroke="#222" stroke-width="0.5"/>
<rect x="425.6" y="313.8" width="39.4" height="3.8" fill="#3a3a3a"/>
<path d="M481 312.9L495 320.4" stroke="#333" stroke-width="0.5"/>
<!-- track -->
<path d="M397 317.6H496Q503.5 318 503.5 325.5Q503.5 333.5 496 333.5H397Q389.4 333.5 389.4 325.5Q389.4 317.6 397 317.6Z" fill="#747474" stroke="#2e2e2e" stroke-width="1.4"/>
<path d="M404 321H498M404 331H498" stroke="#3a3a3a" stroke-width="0.8" fill="none"/>
<path d="M403 318.5H498V321H403Z" fill="#505050"/>
<path d="M423.5 321V331M452 321V331" stroke="#333" stroke-width="0.9" fill="none"/>
<path d="M480 325.5H492" stroke="#444" stroke-width="1.8" stroke-linecap="round"/>
<circle cx="396.4" cy="325.5" r="6" fill="#7a7a7a" stroke="#1e1e1e" stroke-width="1.8"/>
<path d="M392.4 325.5H400.4M396.4 321.5V329.5" stroke="#444" stroke-width="0.5"/>
<path d="M401 332.3H500" stroke="#111" stroke-width="1.6" stroke-dasharray="2.2 1.6"/>
</g>

<!-- ===== END VIEW ===== -->
<g id="endview">
<g fill="none" stroke="#888" stroke-width="0.6">
<path d="M880 235H918.3M859 246.2H907.5M863.8 257H902.5M880 231V270M918.3 231V270M898.8 243V350M892.5 254V290"/>
<path d="M820 298.7V345M831.3 301V341M808 317H850M826 328.7H850M808 334.5H850"/>
<path d="M846.3 354.5H875M850 364.5H948.3M850 336V367M867 336V357M948.3 336V367"/>
</g>
<g fill="#777">
<path d="M883.3 233.5L880 235L883.3 236.5ZM915 233.5L918.3 235L915 236.5Z"/>
<path d="M853.3 363L850 364.5L853.3 366ZM945 363L948.3 364.5L945 366Z"/>
<path d="M818.5 313.7L820 317L821.5 313.7ZM818.5 337.8L820 334.5L821.5 337.8ZM829.8 325.4L831.3 328.7L832.8 325.4ZM829.8 337.8L831.3 334.5L832.8 337.8Z"/>
<path d="M870 353L867 354.5L870 356ZM846 353L849.5 354.5L846 356Z"/>
</g>
<g class="sans" fill="#444" font-size="7">
<text x="898.8" y="233.7" text-anchor="middle" textLength="13.5" lengthAdjust="spacingAndGlyphs">2,990</text>
<text x="866.5" y="244.5" text-anchor="middle" textLength="13" lengthAdjust="spacingAndGlyphs">1,495</text>
<text x="868.75" y="255" text-anchor="middle" textLength="10" lengthAdjust="spacingAndGlyphs">940</text>
<text x="838" y="352" text-anchor="middle" textLength="13.7" lengthAdjust="spacingAndGlyphs">1,220</text>
<text x="899" y="362.5" text-anchor="middle" textLength="14.2" lengthAdjust="spacingAndGlyphs">7,620</text>
<text transform="translate(818.7 304.6) rotate(-90)" text-anchor="middle" textLength="13.2" lengthAdjust="spacingAndGlyphs">1,360</text>
<text transform="translate(829.5 306.2) rotate(-90)" text-anchor="middle" textLength="10" lengthAdjust="spacingAndGlyphs">435</text>
</g>
<!-- tracks -->
<rect x="850.2" y="317.8" width="16.6" height="16.6" fill="#6e6e6e"/>
<rect x="931.5" y="317.8" width="17.2" height="16.6" fill="#6e6e6e"/>
<path d="M850.2 329.5H866.8M931.5 329.5H948.7" stroke="#555" stroke-width="0.5"/>
<!-- carbody -->
<path d="M866.8 317.8H931.5V325L924 330H874L866.8 325Z" fill="#777"/>
<path d="M884 317.8H912V330H884Z" fill="#8a8a8a"/>
<path d="M888 325.2H910V328.7H888Z" fill="#6a6a6a"/>
<path d="M867 318L878 330M878 318L868 330M931 318L920 330M920 318L930 330M870 320H879M919 320H929M885 320.5H912" stroke="#111" stroke-width="1.1" fill="none"/>
<path d="M866.8 317.8H931.5" stroke="#222" stroke-width="0.8"/>
<path d="M869 334L871 330.5L873 334ZM925 334L927 330.5L929 334Z" fill="#222"/>
<!-- counterweights -->
<rect x="864.2" y="270.5" width="27.2" height="41.3" fill="#0aa0e6"/>
<rect x="913.5" y="270.5" width="27.1" height="41.3" fill="#0aa0e6"/>
<path d="M864.2 270.8H891.4M913.5 270.8H940.6M864.2 276.4H891.4M913.5 276.4H940.6M864.2 282.3H891.4M913.5 282.3H940.6M864.2 288.2H891.4M913.5 288.2H940.6M864.2 294.1H891.4M913.5 294.1H940.6M864.2 300.0H891.4M913.5 300.0H940.6M864.2 305.9H891.4M913.5 305.9H940.6" stroke="#0a2a40" stroke-width="0.9" fill="none"/>
<path d="M875.7 270.5V312M929.2 270.5V312" stroke="#0a0a0a" stroke-width="1.4" stroke-dasharray="1.6 1.4" fill="none"/>
<rect x="864.2" y="311.8" width="27.2" height="3.7" fill="#6e6e6e"/>
<rect x="913.5" y="311.8" width="27.1" height="3.7" fill="#6e6e6e"/>
<!-- cab -->
<path d="M880.5 310V290Q880.5 287.4 883 287.4H892V310Z" fill="#f2f2f2" stroke="#151515" stroke-width="1.1"/>
<path d="M883 296L887.5 302.5" stroke="#222" stroke-width="0.9"/>
<path d="M880.5 307H892" stroke="#555" stroke-width="0.6"/>
<!-- engine -->
<path d="M892 314.4V291L895 289L898 293L904 292L909 289.5L913 292L918.3 290V314.4Z" fill="#0aa0e6"/>
<path d="M893 296H917M894 301H916M896 306H915M893 311H917M898 291V314M904 292V314M910 290V314M915 292V314M894 298L900 304M908 296L916 304" stroke="#081820" stroke-width="0.9" fill="none" opacity="0.85"/>
<path d="M899 303h6v3h-6zM907 307h4v4h-4z" fill="#0a0a0a"/>
</g>
<!-- ===== BOTTOM CENTER PRESSURE DIAGRAM ===== -->
<g id="press">
<path d="M396.4 564V621.5M447 531V621.5M497 550V621.5" stroke="#999" stroke-width="0.9" fill="none"/>
<path d="M396.4 587.6H497V615.7L396.4 598.8Z" fill="#3f48cc"/>
<path d="M447 531V540" stroke="#333" stroke-width="0.6"/>
<path d="M445.8 538L447 541L448.2 538Z" fill="#333"/>
<path d="M447 546.4V557" stroke="#e00000" stroke-width="1.6"/>
<path d="M444.5 556H449.5L447 560Z" fill="#e00000"/>
<path d="M437.5 557.5Q438 549 447 548Q455 548.5 454.5 558" fill="none" stroke="#e00000" stroke-width="1.8"/>
<path d="M452 557H457L454.5 561Z" fill="#e00000"/>
<path d="M449 573.5H464" stroke="#e00000" stroke-width="0.9"/>
<path d="M450.5 571.8L447.5 573.5L450.5 575.2ZM462.7 571.8L465.7 573.5L462.7 575.2Z" fill="#e00000"/>
<path d="M465.7 575V588" stroke="#e00000" stroke-width="0.6" stroke-dasharray="1 1"/>
<path d="M448.5 581.3H458" stroke="#1e7fd0" stroke-width="0.7"/>
<circle cx="460.5" cy="581.3" r="1.4" fill="#e00000"/>
<g class="sans" font-weight="bold" fill="#e00000" font-size="5">
<text x="440" y="547">P</text><text x="457.5" y="558.5">M</text>
</g>
<g class="serif" font-style="italic" fill="#555" font-size="3.6">
<text x="456" y="567">L</text><text x="456" y="571">6</text>
<text x="420" y="582.5">e = M/P &lt; L/6</text>
</g>
</g>

<!-- ===== BOTTOM EQUATIONS ===== -->
<g class="serif" font-style="italic" fill="#333">
<text x="264.5" y="588.4" font-size="10" text-anchor="middle">P</text><text x="264.5" y="601.3" font-size="10" text-anchor="middle">A</text>
<text x="273" y="595.5" font-size="10" font-style="normal" text-anchor="middle">−</text>
<text x="282.2" y="588.4" font-size="10" text-anchor="middle">M</text><text x="282.2" y="601.3" font-size="10" text-anchor="middle">S</text>
<text x="292" y="595.5" font-size="10" font-style="normal" text-anchor="middle" fill="#888">=</text>
<text x="309.75" y="588.4" font-size="10" text-anchor="middle">P</text><text x="309.75" y="601.3" font-size="10" text-anchor="middle">B<tspan font-size="6" dy="-1"> ∗ </tspan><tspan dy="1">L</tspan></text>
<path d="M323.5 583Q319.5 592 323.5 601.3M360.8 583Q364.8 592 360.8 601.3" stroke="#333" stroke-width="0.9" fill="none"/>
<text x="328" y="595.8" font-size="10" font-style="normal" text-anchor="middle">1</text>
<text x="335.8" y="595.5" font-size="10" font-style="normal" text-anchor="middle">−</text>
<text x="350.54999999999995" y="588.4" font-size="10" text-anchor="middle">6<tspan font-size="6" dy="-1"> ∗ </tspan><tspan dy="1">e</tspan></text><text x="350.54999999999995" y="601.3" font-size="10" text-anchor="middle">L</text>
<text x="369.8" y="595.5" font-size="10" font-style="normal" text-anchor="middle" fill="#888">=</text>
<text x="375.5" y="596" font-size="10">q</text><text x="381.3" y="597.5" font-size="7.5">min</text>
<text x="508.5" y="605" font-size="10">q</text><text x="514.5" y="606.5" font-size="7.5">max</text>
<text x="533.7" y="604.5" font-size="10" font-style="normal" text-anchor="middle">=</text>
<text x="544.6" y="597.5" font-size="10" text-anchor="middle">P</text><text x="544.6" y="610.5" font-size="10" text-anchor="middle">A</text>
<text x="553" y="604.5" font-size="10" font-style="normal" text-anchor="middle">+</text>
<text x="562.05" y="597.5" font-size="10" text-anchor="middle">M</text><text x="562.05" y="610.5" font-size="10" text-anchor="middle">S</text>
<text x="572" y="604.5" font-size="10" font-style="normal" text-anchor="middle">=</text>
<text x="590.0" y="597.5" font-size="10" text-anchor="middle">P</text><text x="590.0" y="610.5" font-size="10" text-anchor="middle">B<tspan font-size="6" dy="-1"> ∗ </tspan><tspan dy="1">L</tspan></text>
<path d="M603.5 592Q599.5 601.3 603.5 610.5M640.5 592Q644.5 601.3 640.5 610.5" stroke="#333" stroke-width="0.9" fill="none"/>
<text x="607.5" y="604.8" font-size="10" font-style="normal" text-anchor="middle">1</text>
<text x="616.2" y="604.5" font-size="10" font-style="normal" text-anchor="middle">+</text>
<text x="630.45" y="597.5" font-size="10" text-anchor="middle">6<tspan font-size="6" dy="-1"> ∗ </tspan><tspan dy="1">e</tspan></text><text x="630.45" y="610.5" font-size="10" text-anchor="middle">L</text>
<text x="722.5" y="111.8" font-size="7.5" text-anchor="middle">M</text><text x="722.5" y="121.3" font-size="7.5" text-anchor="middle">P</text>
<text x="765.3" y="215.5" font-size="7" text-anchor="middle" textLength="16" lengthAdjust="spacingAndGlyphs">B<tspan font-size="5" dy="-1">∗</tspan><tspan dy="1">L²</tspan></text><text x="765.3" y="226.8" font-size="7" font-style="normal" text-anchor="middle">6</text>
<path d="M261.5 592.5H267.5M278.4 592.5H286M300.3 592.5H319.2M341.9 592.5H359.2M541.7 601.3H547.5M558.3 601.3H565.8M580 601.3H600M621.7 601.3H639.2M719.5 114H725.5M757 218H773.7" stroke="#444" stroke-width="0.7" fill="none"/>
</g>
</svg>
</body></html>
